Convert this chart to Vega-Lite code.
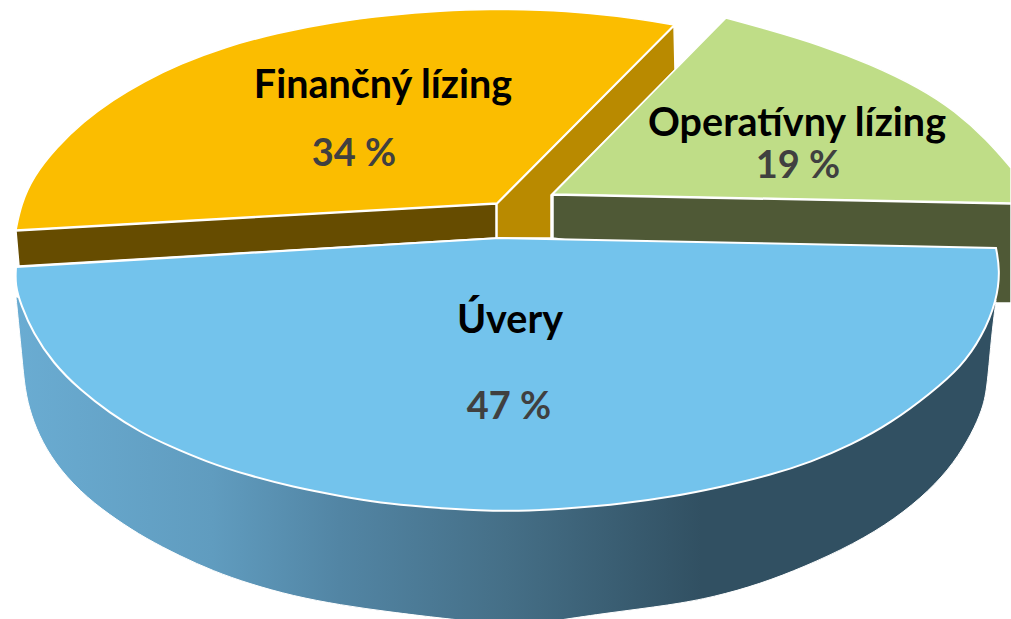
{"$schema":"https://vega.github.io/schema/vega-lite/v6.json","width":1011,"height":619,"autosize":{"type":"fit","contains":"padding"},"padding":0,"background":"white","view":{"stroke":null},
"datasets":{
"outlines":[
{"part":"yellowTop","i":0,"x":16,"y":230},{"part":"yellowTop","i":0.5,"x":16,"y":230},{"part":"yellowTop","i":1,"x":16,"y":230},{"part":"yellowTop","i":2,"x":21,"y":205},{"part":"yellowTop","i":3,"x":33,"y":177},{"part":"yellowTop","i":4,"x":57,"y":147},{"part":"yellowTop","i":5,"x":83,"y":122},{"part":"yellowTop","i":6,"x":113,"y":100},{"part":"yellowTop","i":7,"x":143,"y":82},{"part":"yellowTop","i":8,"x":180,"y":64},{"part":"yellowTop","i":9,"x":225,"y":47},{"part":"yellowTop","i":10,"x":277,"y":33},{"part":"yellowTop","i":11,"x":333,"y":22},{"part":"yellowTop","i":12,"x":390,"y":15},{"part":"yellowTop","i":13,"x":440,"y":11},{"part":"yellowTop","i":14,"x":490,"y":9},{"part":"yellowTop","i":15,"x":540,"y":10},{"part":"yellowTop","i":16,"x":590,"y":13},{"part":"yellowTop","i":17,"x":640,"y":19},{"part":"yellowTop","i":18,"x":674,"y":25},{"part":"yellowTop","i":18.5,"x":674,"y":25},{"part":"yellowTop","i":19,"x":674,"y":25},{"part":"yellowTop","i":20,"x":497,"y":203},{"part":"yellowTop","i":20.5,"x":497,"y":203},{"part":"yellowTop","i":21,"x":497,"y":203},{"part":"yellowTop","i":22,"x":16,"y":230},{"part":"yellowTop","i":22.5,"x":16,"y":230},{"part":"yellowTop","i":23,"x":16,"y":230},
{"part":"brown","i":1,"x":16,"y":231},{"part":"brown","i":2,"x":496,"y":204},{"part":"brown","i":3,"x":496,"y":238},{"part":"brown","i":4,"x":19,"y":266},{"part":"brown","i":5,"x":16,"y":231},
{"part":"tan","i":1,"x":497,"y":204},{"part":"tan","i":2,"x":674,"y":26},{"part":"tan","i":3,"x":675,"y":70},{"part":"tan","i":4,"x":551,"y":195},{"part":"tan","i":5,"x":551,"y":238},{"part":"tan","i":6,"x":497,"y":238},{"part":"tan","i":7,"x":497,"y":204},
{"part":"greenTop","i":0,"x":553,"y":194},{"part":"greenTop","i":0.5,"x":553,"y":194},{"part":"greenTop","i":1,"x":553,"y":194},{"part":"greenTop","i":2,"x":726,"y":18},{"part":"greenTop","i":2.3,"x":726,"y":18},{"part":"greenTop","i":2.6,"x":726,"y":18},{"part":"greenTop","i":3,"x":770,"y":30},{"part":"greenTop","i":4,"x":820,"y":45},{"part":"greenTop","i":5,"x":870,"y":64},{"part":"greenTop","i":6,"x":920,"y":88},{"part":"greenTop","i":7,"x":955,"y":111},{"part":"greenTop","i":8,"x":987,"y":140},{"part":"greenTop","i":9,"x":1011,"y":168},{"part":"greenTop","i":9.3,"x":1011,"y":168},{"part":"greenTop","i":9.6,"x":1011,"y":168},{"part":"greenTop","i":10,"x":1011,"y":203},{"part":"greenTop","i":10.3,"x":1011,"y":203},{"part":"greenTop","i":10.6,"x":1011,"y":203},{"part":"greenTop","i":11,"x":553,"y":194},{"part":"greenTop","i":11.5,"x":553,"y":194},{"part":"greenTop","i":12,"x":553,"y":194},
{"part":"greenSide","i":1,"x":553,"y":195},{"part":"greenSide","i":2,"x":1011,"y":204},{"part":"greenSide","i":3,"x":1011,"y":303},{"part":"greenSide","i":4,"x":997,"y":303},{"part":"greenSide","i":5,"x":553,"y":238},{"part":"greenSide","i":6,"x":553,"y":195},
{"part":"blueSide","i":0,"x":16,"y":297},{"part":"blueSide","i":0.5,"x":16,"y":297},{"part":"blueSide","i":1,"x":16,"y":297},{"part":"blueSide","i":2,"x":22,"y":357},{"part":"blueSide","i":3,"x":25,"y":390},{"part":"blueSide","i":4,"x":31,"y":415},{"part":"blueSide","i":5,"x":42,"y":442},{"part":"blueSide","i":6,"x":60,"y":470},{"part":"blueSide","i":7,"x":87,"y":498},{"part":"blueSide","i":8,"x":117,"y":520},{"part":"blueSide","i":9,"x":145,"y":538},{"part":"blueSide","i":10,"x":180,"y":556},{"part":"blueSide","i":11,"x":213,"y":571},{"part":"blueSide","i":12,"x":250,"y":584},{"part":"blueSide","i":13,"x":293,"y":596},{"part":"blueSide","i":14,"x":340,"y":605},{"part":"blueSide","i":15,"x":390,"y":612},{"part":"blueSide","i":16,"x":440,"y":618},{"part":"blueSide","i":17,"x":460,"y":620},{"part":"blueSide","i":17.3,"x":460,"y":620},{"part":"blueSide","i":17.6,"x":460,"y":620},{"part":"blueSide","i":18,"x":560,"y":620},{"part":"blueSide","i":18.3,"x":560,"y":620},{"part":"blueSide","i":18.6,"x":560,"y":620},{"part":"blueSide","i":19,"x":607,"y":613},{"part":"blueSide","i":20,"x":671,"y":605},{"part":"blueSide","i":21,"x":714,"y":597},{"part":"blueSide","i":22,"x":760,"y":584},{"part":"blueSide","i":23,"x":804,"y":567},{"part":"blueSide","i":24,"x":854,"y":544},{"part":"blueSide","i":25,"x":895,"y":519},{"part":"blueSide","i":26,"x":929,"y":491},{"part":"blueSide","i":27,"x":954,"y":463},{"part":"blueSide","i":28,"x":972,"y":433},{"part":"blueSide","i":29,"x":982,"y":410},{"part":"blueSide","i":30,"x":987,"y":390},{"part":"blueSide","i":31,"x":991,"y":340},{"part":"blueSide","i":32,"x":996,"y":300},{"part":"blueSide","i":32.3,"x":996,"y":300},{"part":"blueSide","i":32.6,"x":996,"y":300},{"part":"blueSide","i":33,"x":500,"y":400},{"part":"blueSide","i":33.3,"x":500,"y":400},{"part":"blueSide","i":33.6,"x":500,"y":400},{"part":"blueSide","i":34,"x":16,"y":297},{"part":"blueSide","i":34.5,"x":16,"y":297},{"part":"blueSide","i":35,"x":16,"y":297},
{"part":"blueTop","i":0,"x":16,"y":267},{"part":"blueTop","i":0.5,"x":16,"y":267},{"part":"blueTop","i":1,"x":16,"y":267},{"part":"blueTop","i":2,"x":500,"y":238},{"part":"blueTop","i":2.3,"x":500,"y":238},{"part":"blueTop","i":2.6,"x":500,"y":238},{"part":"blueTop","i":3,"x":996,"y":248},{"part":"blueTop","i":3.3,"x":996,"y":248},{"part":"blueTop","i":3.6,"x":996,"y":248},{"part":"blueTop","i":5,"x":1000,"y":270},{"part":"blueTop","i":6,"x":997,"y":300},{"part":"blueTop","i":7,"x":982,"y":337},{"part":"blueTop","i":8,"x":961,"y":367},{"part":"blueTop","i":9,"x":931,"y":393},{"part":"blueTop","i":10,"x":891,"y":423},{"part":"blueTop","i":11,"x":851,"y":445},{"part":"blueTop","i":12,"x":811,"y":462},{"part":"blueTop","i":13,"x":771,"y":475},{"part":"blueTop","i":14,"x":721,"y":487},{"part":"blueTop","i":15,"x":671,"y":497},{"part":"blueTop","i":16,"x":620,"y":504},{"part":"blueTop","i":17,"x":575,"y":508},{"part":"blueTop","i":18,"x":530,"y":511},{"part":"blueTop","i":19,"x":480,"y":511},{"part":"blueTop","i":20,"x":425,"y":507},{"part":"blueTop","i":21,"x":380,"y":503},{"part":"blueTop","i":22,"x":340,"y":496},{"part":"blueTop","i":23,"x":293,"y":487},{"part":"blueTop","i":24,"x":247,"y":475},{"part":"blueTop","i":25,"x":207,"y":462},{"part":"blueTop","i":26,"x":167,"y":445},{"part":"blueTop","i":27,"x":140,"y":432},{"part":"blueTop","i":28,"x":110,"y":413},{"part":"blueTop","i":29,"x":80,"y":390},{"part":"blueTop","i":30,"x":53,"y":363},{"part":"blueTop","i":31,"x":33,"y":333},{"part":"blueTop","i":32,"x":21,"y":305},{"part":"blueTop","i":33,"x":15,"y":285},{"part":"blueTop","i":34,"x":16,"y":267},{"part":"blueTop","i":34.5,"x":16,"y":267},{"part":"blueTop","i":35,"x":16,"y":267}
],
"slices":[
{"segment":"Úvery","value":"47 %","nameX":510,"nameY":333,"valueX":509,"valueY":419},
{"segment":"Finančný lízing","value":"34 %","nameX":383,"nameY":98,"valueX":354,"valueY":166},
{"segment":"Operatívny lízing","value":"19 %","nameX":797,"nameY":136,"valueX":798,"valueY":178}
]},
"encoding":{
"x":{"field":"x","type":"quantitative","scale":{"domain":[0,1011],"nice":false,"zero":false},"axis":null},
"y":{"field":"y","type":"quantitative","scale":{"domain":[619,0],"nice":false,"zero":false},"axis":null}
},
"layer":[
{"data":{"name":"outlines"},"transform":[{"filter":"datum.part=='yellowTop'"}],"mark":{"type":"line","interpolate":"basis","fill":"#FBBD00","stroke":"#ffffff","strokeWidth":1.5,"clip":true},"encoding":{"order":{"field":"i","type":"quantitative"}}},
{"data":{"name":"outlines"},"transform":[{"filter":"datum.part=='brown'"}],"mark":{"type":"line","fill":"#664C00","stroke":"#ffffff","strokeWidth":1.5,"clip":true},"encoding":{"order":{"field":"i","type":"quantitative"}}},
{"data":{"name":"outlines"},"transform":[{"filter":"datum.part=='tan'"}],"mark":{"type":"line","fill":"#B98A00","stroke":"#ffffff","strokeWidth":1.5,"clip":true},"encoding":{"order":{"field":"i","type":"quantitative"}}},
{"data":{"name":"outlines"},"transform":[{"filter":"datum.part=='greenTop'"}],"mark":{"type":"line","interpolate":"basis","fill":"#BFDD87","stroke":"#ffffff","strokeWidth":1.5,"clip":true},"encoding":{"order":{"field":"i","type":"quantitative"}}},
{"data":{"name":"outlines"},"transform":[{"filter":"datum.part=='greenSide'"}],"mark":{"type":"line","fill":"#4F5936","stroke":"#ffffff","strokeWidth":1.5,"clip":true},"encoding":{"order":{"field":"i","type":"quantitative"}}},
{"data":{"name":"outlines"},"transform":[{"filter":"datum.part=='blueSide'"}],"mark":{"type":"line","interpolate":"basis","fill":{"gradient":"linear","x1":0,"y1":0,"x2":1,"y2":0,"stops":[{"offset":0,"color":"#6AACD2"},{"offset":0.2,"color":"#609CBF"},{"offset":0.33,"color":"#5285A4"},{"offset":0.5,"color":"#456F87"},{"offset":0.7,"color":"#315062"},{"offset":1,"color":"#315062"}]},"stroke":"#ffffff","strokeWidth":1,"clip":true},"encoding":{"order":{"field":"i","type":"quantitative"}}},
{"data":{"name":"outlines"},"transform":[{"filter":"datum.part=='blueTop'"}],"mark":{"type":"line","interpolate":"basis","fill":"#73C3EC","stroke":"#ffffff","strokeWidth":2,"clip":true},"encoding":{"order":{"field":"i","type":"quantitative"}}},
{"data":{"name":"slices"},"mark":{"type":"text","font":"Lato","fontWeight":"bold","fontSize":39.5,"baseline":"alphabetic","align":"center","color":"#000000"},"encoding":{"x":{"field":"nameX","type":"quantitative"},"y":{"field":"nameY","type":"quantitative"},"text":{"field":"segment"}}},
{"data":{"name":"slices"},"mark":{"type":"text","font":"Lato","fontWeight":"bold","fontSize":38,"baseline":"alphabetic","align":"center","color":"#404040"},"encoding":{"x":{"field":"valueX","type":"quantitative"},"y":{"field":"valueY","type":"quantitative"},"text":{"field":"value"}}}
]}
